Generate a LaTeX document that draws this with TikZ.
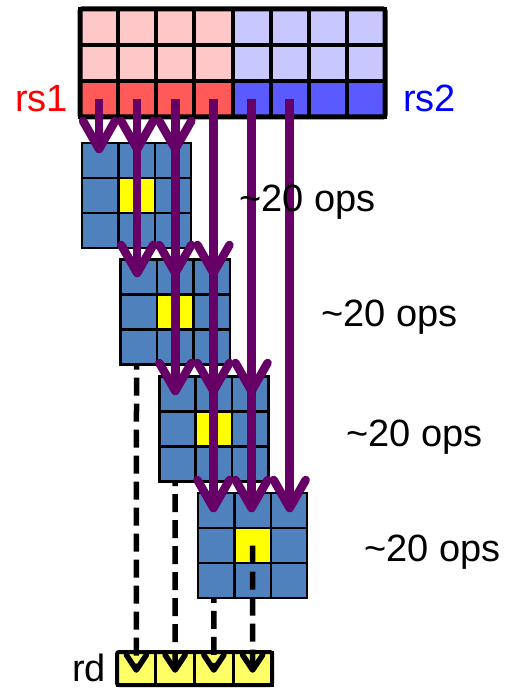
\documentclass[tikz,border=0pt]{standalone}
\usepackage{fontspec}
\setmainfont{Liberation Sans}

\definecolor{regredlight}{HTML}{FFC8C8}
\definecolor{regreddark}{HTML}{FF5A5A}
\definecolor{regbluelight}{HTML}{C8C8FF}
\definecolor{regbluedark}{HTML}{5A5AFF}
\definecolor{gridblue}{HTML}{4F81BD}
\definecolor{hotcell}{HTML}{FFFF00}
\definecolor{rdyellow}{HTML}{FFFF66}
\definecolor{flowpurple}{HTML}{660066}

\begin{document}
\begin{tikzpicture}[x=1pt,y=-1pt,
  regcell/.style={draw=black, line width=4pt, minimum width=38.125pt,
    minimum height=36pt, inner sep=0pt, outer sep=0pt},
  gcell/.style={draw=black, line width=2.5pt, minimum width=36.4pt,
    minimum height=35pt, inner sep=0pt, outer sep=0pt, fill=gridblue},
  rdcell/.style={draw=black, line width=3pt, minimum width=38.75pt,
    minimum height=33pt, inner sep=0pt, outer sep=0pt, fill=rdyellow},
  operand/.style={draw=flowpurple, line width=8.5pt},
  opchev/.style={draw=flowpurple, line width=8.5pt, line cap=round, line join=round},
  result/.style={draw=black, line width=5.5pt, dash pattern=on 18pt off 8pt},
  reschev/.style={draw=black, line width=5.5pt, line cap=round, line join=round},
  lbl/.style={font=\fontsize{38}{40}\selectfont, anchor=base west, inner sep=0pt}]

\useasboundingbox (0,0) rectangle (509,690);

% source registers rs1 | rs2
\foreach \r in {1,2,3}{
  \foreach \c in {1,...,8}{
    \pgfmathsetmacro\cx{80+38.125*(\c-0.5)}
    \pgfmathsetmacro\cy{9+36*(\r-0.5)}
    \ifnum\c<5 \def\side{red}\else\def\side{blue}\fi
    \ifnum\r<3 \def\tone{light}\else\def\tone{dark}\fi
    \node[regcell, fill=reg\side\tone] (r-\r-\c) at (\cx,\cy) {};
  }
}
\draw[line width=5pt, rounded corners=2pt] (r-1-1.north west) rectangle (r-3-8.south east);

% destination register rd
\foreach \k in {1,...,4}{
  \pgfmathsetmacro\dx{117+38.75*(\k-0.5)}
  \node[rdcell] (d-\k) at (\dx,668.5) {};
}
\draw[line width=4pt, rounded corners=2pt] (d-1.north west) rectangle (d-4.south east);

% 3x3 windows, each with its result line to rd
\foreach \k in {1,...,4}{
  \pgfmathsetmacro\gx{82+38.67*(\k-1)}
  \pgfmathsetmacro\gy{143+116.67*(\k-1)}
  \foreach \r in {1,2,3}{
    \foreach \c in {1,2,3}{
      \pgfmathsetmacro\cx{\gx+36.4*(\c-0.5)}
      \pgfmathsetmacro\cy{\gy+35*(\r-0.5)}
      \node[gcell] (g\k-\r-\c) at (\cx,\cy) {};
    }
  }
  \node[gcell, fill=hotcell] at (g\k-2-2) {};
  \coordinate (w-\k) at ([yshift=-18pt]d-\k.north);
  \draw[result] (g\k-2-2.center) -- (w-\k);
  \draw[reschev] ([shift={(-10,-15)}]w-\k) -- (w-\k) -- ([shift={(10,-15)}]w-\k);
}

% operand arrows from the bottom register row into each window
\coordinate (tip-1) at (0,149);
\coordinate (tip-2) at (0,273);
\coordinate (tip-3) at (0,391);
\coordinate (tip-4) at (0,508);
\foreach \k in {1,...,4}{
  \foreach \j in {0,1,2}{
    \pgfmathtruncatemacro\col{\k+\j}
    \coordinate (v-\k-\col) at (r-3-\col.center |- tip-\k);
    \draw[operand] (r-3-\col.center) -- (v-\k-\col);
    \draw[opchev] ([shift={(-16,-28)}]v-\k-\col) -- (v-\k-\col) -- ([shift={(16,-28)}]v-\k-\col);
  }
}

% labels
\node[lbl, text={rgb,255:red,255;green,0;blue,0}] (lab-rs1) at (15,112) {rs1};
\node[lbl, text={rgb,255:red,0;green,0;blue,255}] (lab-rs2) at (403,112) {rs2};
\node[lbl] (ops-1) at (239,211) {\textasciitilde20 ops};
\node[lbl] (ops-2) at (321,326) {\textasciitilde20 ops};
\node[lbl] (ops-3) at (346,446) {\textasciitilde20 ops};
\node[lbl] (ops-4) at (364,561) {\textasciitilde20 ops};
\node[lbl] (lab-rd) at (72,681) {rd};
\end{tikzpicture}
\end{document}
